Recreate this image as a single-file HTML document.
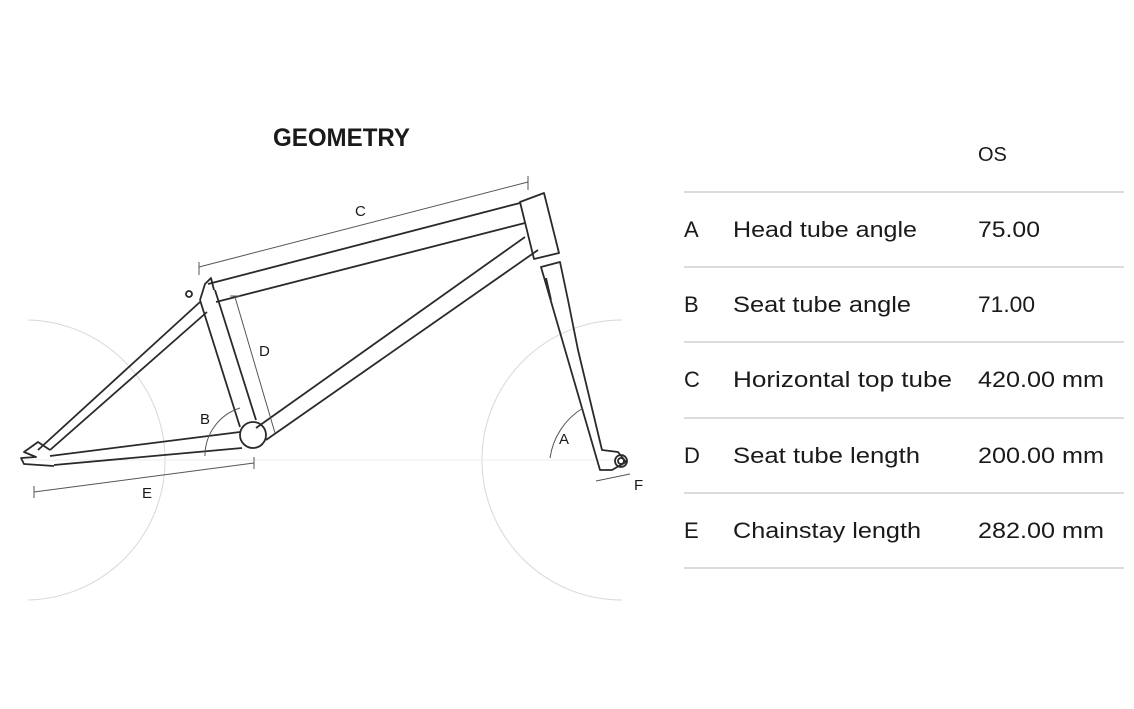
<!DOCTYPE html>
<html><head><meta charset="utf-8"><style>
html,body{margin:0;padding:0;background:#fff;}
svg{display:block;}
text{font-family:"Liberation Sans",sans-serif;fill:#1a1a1a;}
</style></head><body>
<svg width="1134" height="709" viewBox="0 0 1134 709" xmlns="http://www.w3.org/2000/svg">
<defs>
<clipPath id="cl"><rect x="28" y="0" width="200" height="709"/></clipPath>
<clipPath id="cr"><rect x="400" y="0" width="222" height="709"/></clipPath>
</defs>
<!-- wheels -->
<g fill="none" stroke="#d8d8d8" stroke-width="1">
<circle cx="25" cy="460" r="140" clip-path="url(#cl)"/>
<circle cx="622" cy="460" r="140" clip-path="url(#cr)"/>
<line x1="20" y1="460" x2="620" y2="460" stroke="#eee"/>
</g>
<!-- frame -->
<g fill="none" stroke="#2a2a2a" stroke-width="1.8" stroke-linejoin="round">
<line x1="208" y1="284" x2="520" y2="203"/>
<line x1="216" y1="302" x2="525" y2="223"/>
<polygon points="520,202 544,193 559,253 534,259"/>
<line x1="525" y1="237" x2="256" y2="428"/>
<line x1="538" y1="250" x2="266" y2="440"/>
<line x1="200" y1="300" x2="240" y2="427"/>
<line x1="215" y1="290" x2="256" y2="420"/>
<path d="M200,300 L205,284 L211,278 L214,290"/>
<circle cx="189" cy="294" r="3"/>
<line x1="200" y1="302" x2="38" y2="450"/>
<line x1="207" y1="312" x2="50" y2="450"/>
<line x1="50" y1="456" x2="240" y2="432"/>
<line x1="54" y1="465" x2="242" y2="448"/>
<path d="M54,466 L24,464 L21,458 L36,457 L24,452 L38,442 L50,450"/>
<circle cx="253" cy="435" r="13"/>
<path d="M541,267 L560,262 L568,300 L578,350 L602,450 L618,452 L626,462 L612,470 L600,470 Z"/>
<line x1="546" y1="278" x2="551" y2="300"/>
<circle cx="621" cy="461" r="6"/>
<circle cx="621" cy="461" r="3"/>
</g>
<g fill="none" stroke="#555" stroke-width="1">
<line x1="199" y1="267" x2="528" y2="182"/>
<line x1="199" y1="262" x2="199" y2="275"/>
<line x1="528" y1="176" x2="528" y2="190"/>
<line x1="235" y1="297" x2="275" y2="433"/>
<line x1="230" y1="296" x2="240" y2="296"/>
<line x1="34" y1="492" x2="254" y2="463"/>
<line x1="34" y1="486" x2="34" y2="498"/>
<line x1="254" y1="457" x2="254" y2="469"/>
<path d="M205,456 A50,50 0 0 1 240,408"/>
<path d="M550,458 A70,70 0 0 1 583,408"/>
<line x1="596" y1="481" x2="630" y2="474"/>
</g>
<g font-size="15">
<text x="355" y="216">C</text>
<text x="259" y="356">D</text>
<text x="200" y="424">B</text>
<text x="142" y="498">E</text>
<text x="559" y="444">A</text>
<text x="634" y="490">F</text>
</g>
<text x="273" y="146" font-size="25" textLength="137" lengthAdjust="spacingAndGlyphs" style="font-weight:600">GEOMETRY</text>
<g stroke="#d0d0d0" stroke-width="1.5">
<line x1="684" y1="192" x2="1124" y2="192"/>
<line x1="684" y1="267" x2="1124" y2="267"/>
<line x1="684" y1="342" x2="1124" y2="342"/>
<line x1="684" y1="418" x2="1124" y2="418"/>
<line x1="684" y1="493" x2="1124" y2="493"/>
<line x1="684" y1="568" x2="1124" y2="568"/>
</g>
<g font-size="22">
<text x="978" y="161" font-size="20">OS</text>
<text x="684" y="237">A</text><text x="733" y="237" textLength="184" lengthAdjust="spacingAndGlyphs">Head tube angle</text><text x="978" y="237" textLength="62" lengthAdjust="spacingAndGlyphs">75.00</text>
<text x="684" y="312">B</text><text x="733" y="312" textLength="178" lengthAdjust="spacingAndGlyphs">Seat tube angle</text><text x="978" y="312" textLength="57" lengthAdjust="spacingAndGlyphs">71.00</text>
<text x="684" y="387">C</text><text x="733" y="387" textLength="219" lengthAdjust="spacingAndGlyphs">Horizontal top tube</text><text x="978" y="387" textLength="126" lengthAdjust="spacingAndGlyphs">420.00 mm</text>
<text x="684" y="463">D</text><text x="733" y="463" textLength="187" lengthAdjust="spacingAndGlyphs">Seat tube length</text><text x="978" y="463" textLength="126" lengthAdjust="spacingAndGlyphs">200.00 mm</text>
<text x="684" y="538">E</text><text x="733" y="538" textLength="188" lengthAdjust="spacingAndGlyphs">Chainstay length</text><text x="978" y="538" textLength="126" lengthAdjust="spacingAndGlyphs">282.00 mm</text>
</g>
</svg>
</body></html>
